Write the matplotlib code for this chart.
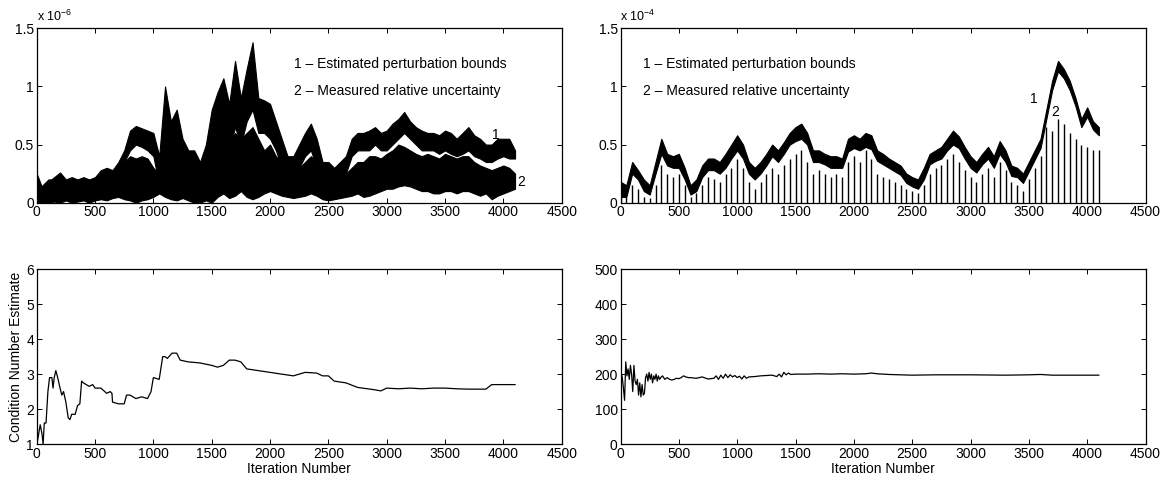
import numpy as np
import matplotlib
matplotlib.use('Agg')
import matplotlib.pyplot as plt
from matplotlib.ticker import FormatStrFormatter

plt.rcParams['font.family'] = ['Liberation Sans', 'DejaVu Sans']
plt.rcParams['font.size'] = 10
plt.rcParams['mathtext.default'] = 'regular'

# iteration grid of the sampled envelopes (every 50 iterations, 0..4100)
iters = np.arange(0, 4101, 50)

# top left (x 1e-6): 1 = estimated perturbation bounds, 2 = measured relative uncertainty
tl_s1_hi = [0.25, 0.12, 0.18, 0.22, 0.26, 0.2, 0.22, 0.2, 0.22, 0.2,
            0.22, 0.28, 0.3, 0.28, 0.35, 0.45, 0.62, 0.66, 0.64, 0.62,
            0.6, 0.4, 1.0, 0.7, 0.8, 0.55, 0.45, 0.45, 0.35, 0.5,
            0.8, 0.95, 1.07, 0.85, 1.22, 0.9, 1.15, 1.38, 0.9, 0.88,
            0.85, 0.7, 0.55, 0.4, 0.4, 0.5, 0.6, 0.68, 0.55, 0.35,
            0.35, 0.3, 0.35, 0.4, 0.55, 0.6, 0.6, 0.62, 0.65, 0.6,
            0.62, 0.68, 0.72, 0.78, 0.7, 0.65, 0.62, 0.6, 0.6, 0.58,
            0.62, 0.6, 0.55, 0.6, 0.65, 0.58, 0.55, 0.5, 0.5, 0.55,
            0.55, 0.55, 0.45]
tl_s1_lo = [0.03, 0.02, 0.05, 0.06, 0.08, 0.05, 0.06, 0.05, 0.07, 0.06,
            0.08, 0.1, 0.12, 0.1, 0.2, 0.35, 0.45, 0.5, 0.48, 0.45,
            0.4, 0.15, 0.3, 0.2, 0.3, 0.15, 0.1, 0.1, 0.05, 0.1,
            0.35, 0.5, 0.55, 0.45, 0.65, 0.5, 0.7, 0.8, 0.6, 0.6,
            0.55, 0.45, 0.3, 0.2, 0.2, 0.3, 0.4, 0.45, 0.3, 0.15,
            0.1, 0.1, 0.15, 0.25, 0.4, 0.45, 0.45, 0.45, 0.5, 0.45,
            0.45, 0.5, 0.55, 0.6, 0.55, 0.5, 0.45, 0.45, 0.45, 0.42,
            0.45, 0.42, 0.4, 0.42, 0.45, 0.4, 0.38, 0.35, 0.35, 0.38,
            0.4, 0.38, 0.38]
tl_s2_hi = [0.1, 0.15, 0.2, 0.2, 0.18, 0.18, 0.2, 0.18, 0.2, 0.18,
            0.2, 0.22, 0.25, 0.25, 0.3, 0.35, 0.4, 0.38, 0.4, 0.38,
            0.3, 0.25, 0.5, 0.4, 0.45, 0.35, 0.3, 0.25, 0.2, 0.25,
            0.45, 0.6, 0.55, 0.5, 0.6, 0.55, 0.6, 0.65, 0.55, 0.45,
            0.5, 0.4, 0.35, 0.3, 0.25, 0.3, 0.35, 0.4, 0.35, 0.3,
            0.25, 0.2, 0.2, 0.25, 0.3, 0.35, 0.35, 0.4, 0.4, 0.38,
            0.42, 0.45, 0.5, 0.48, 0.45, 0.42, 0.4, 0.42, 0.4, 0.38,
            0.42, 0.4, 0.38, 0.4, 0.4, 0.35, 0.32, 0.3, 0.28, 0.3,
            0.32, 0.3, 0.25]
tl_s2_lo = [0.0, 0.0, 0.0, 0.01, 0.0, 0.02, 0.0, 0.01, 0.02, 0.0,
            0.02, 0.03, 0.02, 0.04, 0.05, 0.03, 0.02, 0.0, 0.02, 0.03,
            0.05, 0.08, 0.05, 0.03, 0.02, 0.04, 0.02, 0.0, 0.0, 0.02,
            0.0, 0.05, 0.08, 0.04, 0.06, 0.1, 0.05, 0.03, 0.05, 0.08,
            0.1, 0.08, 0.06, 0.05, 0.04, 0.05, 0.06, 0.08, 0.06, 0.03,
            0.02, 0.03, 0.04, 0.05, 0.06, 0.08, 0.05, 0.06, 0.08, 0.1,
            0.12, 0.12, 0.14, 0.15, 0.14, 0.12, 0.1, 0.1, 0.08, 0.08,
            0.1, 0.1, 0.08, 0.1, 0.1, 0.08, 0.06, 0.08, 0.03, 0.06,
            0.08, 0.1, 0.12]

# top right (x 1e-4)
tr_s1_hi = [0.18, 0.15, 0.35, 0.28, 0.2, 0.15, 0.35, 0.55, 0.42, 0.4,
            0.42, 0.3, 0.15, 0.2, 0.32, 0.38, 0.38, 0.35, 0.42, 0.5,
            0.58, 0.5, 0.35, 0.3, 0.35, 0.42, 0.5, 0.45, 0.52, 0.6,
            0.65, 0.68, 0.6, 0.45, 0.45, 0.42, 0.4, 0.4, 0.38, 0.55,
            0.58, 0.55, 0.6, 0.58, 0.45, 0.42, 0.38, 0.35, 0.32, 0.25,
            0.22, 0.2, 0.3, 0.42, 0.45, 0.48, 0.55, 0.62, 0.57, 0.48,
            0.4, 0.35, 0.42, 0.48, 0.4, 0.53, 0.45, 0.32, 0.3, 0.25,
            0.35, 0.45, 0.55, 0.8, 1.05, 1.22, 1.15, 1.05, 0.9, 0.72,
            0.82, 0.7, 0.65]
tr_s1_lo = [0.05, 0.05, 0.25, 0.2, 0.1, 0.07, 0.25, 0.42, 0.32, 0.3,
            0.3, 0.2, 0.07, 0.1, 0.22, 0.28, 0.28, 0.25, 0.3, 0.38,
            0.45, 0.38, 0.25, 0.2, 0.25, 0.32, 0.4, 0.35, 0.42, 0.5,
            0.53, 0.55, 0.5, 0.35, 0.35, 0.33, 0.3, 0.3, 0.3, 0.44,
            0.47, 0.45, 0.48, 0.46, 0.36, 0.33, 0.3, 0.27, 0.24, 0.17,
            0.14, 0.12, 0.2, 0.33, 0.36, 0.38, 0.45, 0.5, 0.47, 0.38,
            0.3, 0.26, 0.33, 0.38, 0.3, 0.42, 0.35, 0.23, 0.22, 0.17,
            0.27, 0.37, 0.47, 0.72, 0.97, 1.13, 1.07, 0.97, 0.83, 0.65,
            0.74, 0.63, 0.58]
tr_s2 = [0.08, 0.05, 0.15, 0.12, 0.05, 0.04, 0.15, 0.32, 0.25, 0.22,
         0.25, 0.15, 0.05, 0.08, 0.15, 0.22, 0.2, 0.18, 0.25, 0.3,
         0.38, 0.3, 0.18, 0.12, 0.18, 0.25, 0.3, 0.25, 0.32, 0.38,
         0.42, 0.45, 0.35, 0.25, 0.28, 0.25, 0.22, 0.25, 0.22, 0.35,
         0.4, 0.35, 0.45, 0.38, 0.25, 0.22, 0.2, 0.18, 0.15, 0.12,
         0.1, 0.08, 0.15, 0.25, 0.3, 0.32, 0.38, 0.42, 0.35, 0.28,
         0.22, 0.18, 0.25, 0.3, 0.22, 0.35, 0.28, 0.18, 0.15, 0.1,
         0.2, 0.3, 0.4, 0.65, 0.62, 0.72, 0.68, 0.6, 0.55, 0.5,
         0.48, 0.45, 0.45]

# bottom left: condition number estimate
bl_x = [0, 2, 15, 30, 45, 55, 65, 80, 96, 110,
        130, 140, 150, 164, 180, 200, 215, 230, 250, 270,
        285, 300, 330, 350, 370, 385, 400, 450, 480, 500,
        550, 600, 630, 645, 650, 700, 750, 770, 800, 850,
        900, 950, 980, 1000, 1050, 1080, 1100, 1120, 1160, 1200,
        1230, 1300, 1400, 1500, 1550, 1600, 1650, 1700, 1750, 1800,
        1900, 2000, 2100, 2200, 2300, 2400, 2450, 2500, 2550, 2650,
        2750, 2900, 2950, 3000, 3100, 3200, 3300, 3400, 3500, 3600,
        3700, 3850, 3900, 3950, 4000, 4100]
bl_y = [5.3, 1.0, 1.25, 1.55, 1.3, 1.0, 1.6, 1.6, 2.5, 2.9,
        2.9, 2.6, 2.9, 3.1, 2.9, 2.6, 2.4, 2.5, 2.2, 1.75,
        1.7, 1.85, 1.85, 2.1, 2.15, 2.8, 2.75, 2.65, 2.7, 2.6,
        2.6, 2.45, 2.5, 2.45, 2.2, 2.15, 2.15, 2.4, 2.4, 2.3,
        2.35, 2.3, 2.5, 2.9, 2.85, 3.5, 3.5, 3.45, 3.6, 3.6,
        3.4, 3.35, 3.32, 3.25, 3.2, 3.25, 3.4, 3.4, 3.35, 3.15,
        3.1, 3.05, 3.0, 2.95, 3.05, 3.03, 2.95, 2.95, 2.8, 2.75,
        2.62, 2.55, 2.52, 2.6, 2.58, 2.6, 2.58, 2.6, 2.6, 2.58,
        2.57, 2.57, 2.7, 2.7, 2.7, 2.7]

# bottom right
br_x = [0, 5, 15, 25, 35, 45, 55, 65, 75, 85,
        95, 105, 115, 125, 135, 145, 155, 165, 175, 185,
        195, 205, 215, 225, 235, 245, 255, 265, 275, 285,
        295, 305, 315, 325, 335, 345, 360, 380, 400, 420,
        440, 460, 480, 500, 520, 540, 560, 580, 600, 650,
        700, 750, 800, 820, 840, 860, 880, 900, 920, 940,
        960, 980, 1000, 1020, 1040, 1060, 1080, 1100, 1150, 1200,
        1250, 1300, 1340, 1360, 1380, 1400, 1420, 1440, 1460, 1500,
        1600, 1700, 1800, 1900, 2000, 2100, 2150, 2200, 2300, 2400,
        2500, 2700, 3000, 3300, 3500, 3600, 3700, 4100]
br_y = [0, 205, 190, 160, 125, 235, 195, 215, 185, 225,
        200, 150, 225, 180, 170, 185, 140, 175, 135, 170,
        140, 145, 190, 200, 180, 205, 185, 200, 175, 195,
        185, 200, 180, 195, 185, 190, 195, 185, 190, 185,
        183, 185, 188, 187, 190, 195, 192, 190, 190, 188,
        192, 186, 188, 195, 185, 197, 188, 200, 190, 198,
        192, 196, 190, 194, 186, 195, 188, 192, 193, 195,
        196, 197, 193, 200, 192, 205, 198, 203, 199, 200,
        200, 201, 200, 201, 200, 201, 203, 201, 199, 198,
        197, 198, 198, 197, 198, 199, 197, 197]

xticks = [0, 500, 1000, 1500, 2000, 2500, 3000, 3500, 4000, 4500]

fig = plt.figure(figsize=(11.72, 4.86), dpi=100)
W, H = 1172, 486
def axes_px(x0, x1, y0, y1):
    return fig.add_axes([x0 / W, 1 - y1 / H, (x1 - x0) / W, (y1 - y0) / H])

ax_tl = axes_px(36.7, 561.7, 28.3, 202.7)
ax_tr = axes_px(620.5, 1145.5, 28.3, 202.7)
ax_bl = axes_px(36.7, 561.7, 269.3, 444)
ax_br = axes_px(620.5, 1145.5, 269.3, 444)

for ax in (ax_tl, ax_tr, ax_bl, ax_br):
    ax.set_xlim(0, 4500)
    ax.set_xticks(xticks)
    ax.tick_params(direction='in', length=3.6, width=0.7, top=True, right=True,
                   labelsize=10, pad=2)
    for s in ax.spines.values():
        s.set_linewidth(0.9)

# top left: dense noisy traces drawn as their read envelopes
ax_tl.fill_between(iters, tl_s1_lo, tl_s1_hi, color='k', lw=0.8)
ax_tl.fill_between(iters, tl_s2_lo, tl_s2_hi, color='k', lw=0.8)
ax_tl.set_ylim(0, 1.5)
ax_tl.set_yticks([0, 0.5, 1, 1.5])
ax_tl.yaxis.set_major_formatter(FormatStrFormatter('%g'))
ax_tl.text(0, 1.025, r'x 10$^{-6}$', transform=ax_tl.transAxes, fontsize=9, va='bottom')
ax_tl.text(2205, 1.19, '1 \u2013 Estimated perturbation bounds', va='center')
ax_tl.text(2205, 0.96, '2 \u2013 Measured relative uncertainty', va='center')
ax_tl.text(3931, 0.58, '1', ha='center', va='center')
ax_tl.text(4150, 0.18, '2', ha='center', va='center')

# top right
ax_tr.vlines(iters, 0, tr_s2, color='k', lw=1.0)
ax_tr.fill_between(iters, tr_s1_lo, tr_s1_hi, color='k', lw=0.8)
ax_tr.set_ylim(0, 1.5)
ax_tr.set_yticks([0, 0.5, 1, 1.5])
ax_tr.yaxis.set_major_formatter(FormatStrFormatter('%g'))
ax_tr.text(0, 1.025, r'x 10$^{-4}$', transform=ax_tr.transAxes, fontsize=9, va='bottom')
ax_tr.text(194, 1.19, '1 \u2013 Estimated perturbation bounds', va='center')
ax_tr.text(194, 0.96, '2 \u2013 Measured relative uncertainty', va='center')
ax_tr.text(3540, 0.89, '1', ha='center', va='center')
ax_tr.text(3728, 0.78, '2', ha='center', va='center')

# bottom left
ax_bl.plot(bl_x, bl_y, color='k', lw=0.9)
ax_bl.set_ylim(1, 6)
ax_bl.set_yticks([1, 2, 3, 4, 5, 6])
ax_bl.set_ylabel('Condition Number Estimate', labelpad=2)
ax_bl.set_xlabel('Iteration Number', labelpad=1)

# bottom right
ax_br.plot(br_x, br_y, color='k', lw=0.9)
ax_br.set_ylim(0, 500)
ax_br.set_yticks([0, 100, 200, 300, 400, 500])
ax_br.set_xlabel('Iteration Number', labelpad=1)

fig.savefig('out.png', dpi=100)
